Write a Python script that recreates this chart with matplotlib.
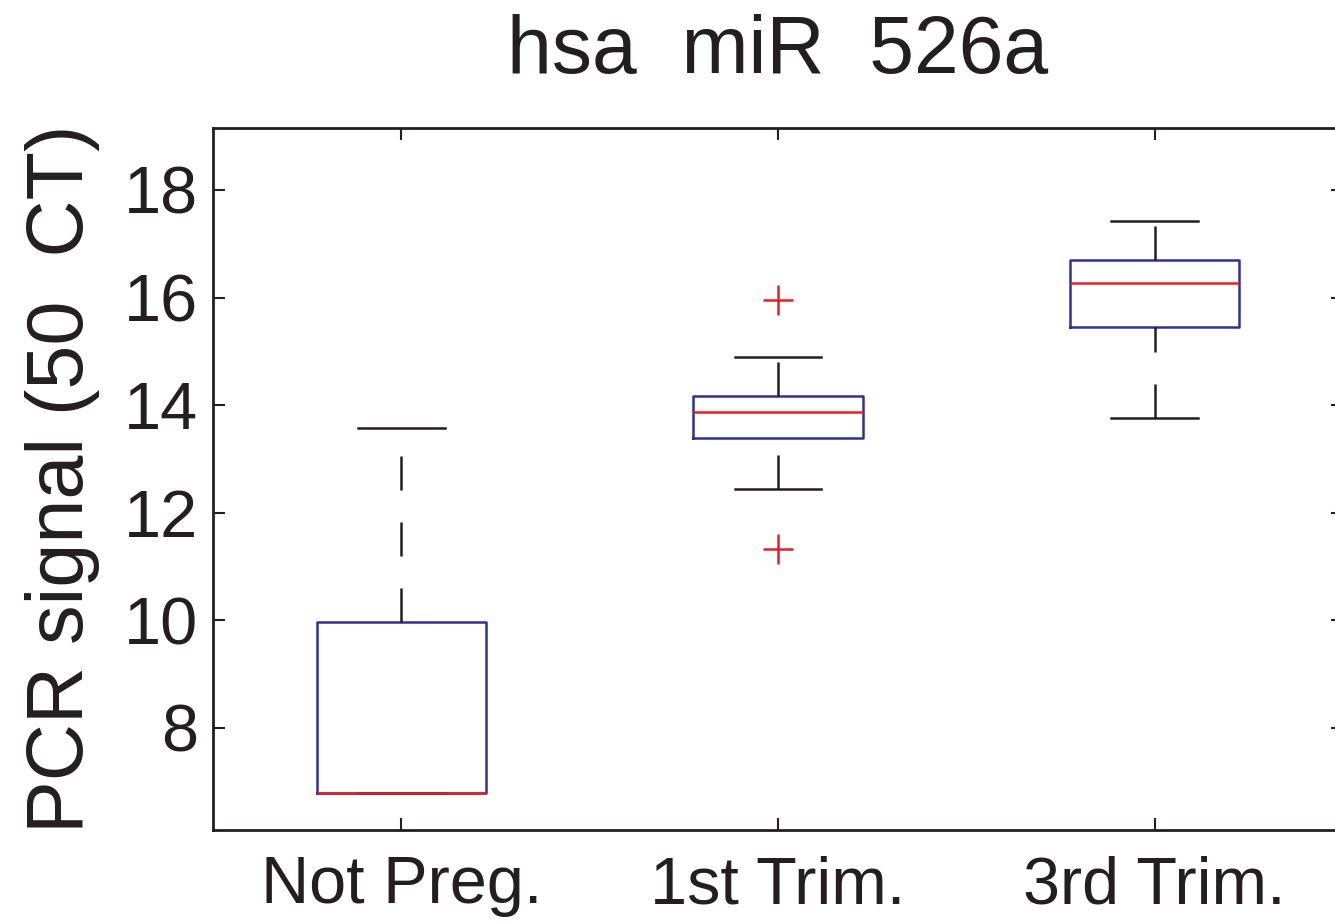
import numpy as np
import matplotlib.pyplot as plt

plt.rcParams['font.family'] = ['Liberation Sans', 'DejaVu Sans']
plt.rcParams['lines.scale_dashes'] = False

# groups and box statistics
groups = ['Not Preg.', '1st Trim.', '3rd Trim.']
q1 = [6.79, 13.39, 15.45]
med = [6.79, 13.87, 16.27]
q3 = [9.97, 14.17, 16.70]
whislo = [6.79, 12.44, 13.76]
whishi = [13.58, 14.90, 17.42]
fliers = [[], [15.96, 11.33], []]

blue = '#2e3192'
red = '#ed1c24'
black = '#231f20'

stats = []
for i in range(len(groups)):
    stats.append(dict(label=groups[i], q1=q1[i], med=med[i], q3=q3[i],
                      whislo=whislo[i], whishi=whishi[i],
                      fliers=np.array(fliers[i])))

fig = plt.figure(figsize=(13.35, 9.24), dpi=100)
ax = fig.add_axes([0.1596, 0.1017, 0.8464, 0.7597])

dash = (0, (24.5, 23))
bp = ax.bxp(stats, positions=[1, 2, 3], widths=0.45, capwidths=0.23,
            boxprops=dict(color=blue, linewidth=1.8),
            medianprops=dict(color=red, linewidth=1.8),
            whiskerprops=dict(color=black, linewidth=1.8, linestyle=dash),
            capprops=dict(color=black, linewidth=1.8),
            flierprops=dict(marker='+', markeredgecolor=red, markersize=22,
                            markeredgewidth=1.8, linestyle='none'))

# lower whiskers start at the cap, like the original
for k in range(0, len(bp['whiskers']), 2):
    w = bp['whiskers'][k]
    w.set_ydata(w.get_ydata()[::-1])

ax.set_xlim(0.5, 3.5)
ax.set_ylim(6.1, 19.15)
ax.set_yticks([8, 10, 12, 14, 16, 18])
ax.tick_params(direction='in', length=8.5, width=1.5, color=black,
               labelsize=48, labelcolor=black, top=True, right=True)
ax.tick_params(axis='y', pad=11)
ax.tick_params(axis='x', pad=18)
for s in ax.spines.values():
    s.set_linewidth(2)
    s.set_color(black)

ax.set_title('hsa  miR  526a', fontsize=58, color=black, pad=40)
ax.set_ylabel('PCR signal (50  CT)', fontsize=57, color=black)
ax.yaxis.set_label_coords(-0.1, 0.5)

fig.savefig('out.png', dpi=100)
